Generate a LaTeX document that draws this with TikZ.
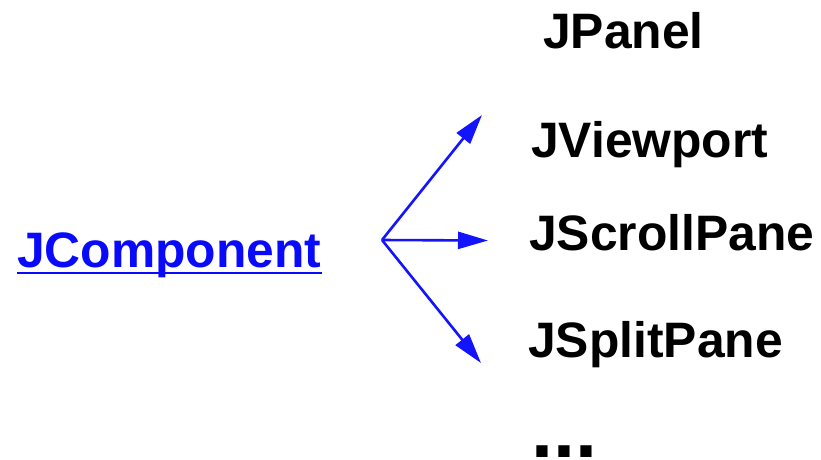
\documentclass[tikz,border=0pt]{standalone}
\usepackage{fontspec}
\setmainfont{Liberation Sans}
\usetikzlibrary{arrows.meta}
\definecolor{linkblue}{RGB}{10,10,250}
\definecolor{arrowblue}{RGB}{20,20,250}
\tikzset{
  label/.style={anchor=base west, inner sep=0pt, font=\fontsize{49.8}{49.8}\selectfont\bfseries},
  conn/.style={draw=arrowblue, line width=2.6pt, -{Triangle[length=30pt,width=17pt]}}
}
\begin{document}
\begin{tikzpicture}[x=1pt,y=-1pt]
\useasboundingbox (0,0) rectangle (821,459);
\node[label, text=linkblue] (jc) at (17,267) {JComponent};
\draw[linkblue, line width=2.5pt] ([yshift=-6pt]jc.base west) -- ([yshift=-6pt]jc.base east);
\node[label] (jp) at (543,48) {JPanel};
\node[label] (jv) at (531,157) {JViewport};
\node[label] (js) at (529,250) {JScrollPane};
\node[label] (jsp) at (528,357) {JSplitPane};
\node[label, font=\fontsize{79}{79}\selectfont\bfseries] (dots) at (531,457) {...};
\coordinate (hub) at (382,240);
\coordinate (t1) at (482,115);
\coordinate (t2) at (488,240.5);
\coordinate (t3) at (481,363);
\draw[conn] (hub) -- (t1);
\draw[conn] (hub) -- (t2);
\draw[conn] (hub) -- (t3);
\end{tikzpicture}
\end{document}
